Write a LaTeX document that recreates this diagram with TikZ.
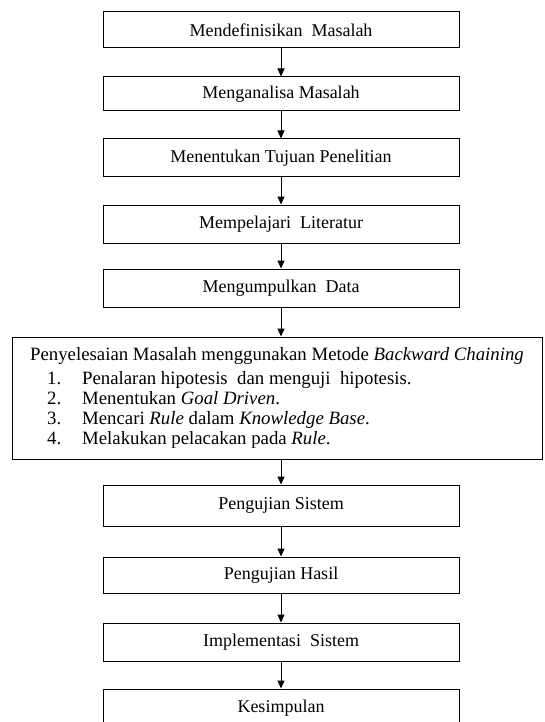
\documentclass[tikz,border=0pt]{standalone}
\usepackage{fontspec}
\setmainfont{Liberation Serif}
\usepackage{tikz}
\usetikzlibrary{arrows.meta}

\begin{document}
\begin{tikzpicture}[x=1pt,y=-1pt,
    box/.style={draw,line width=1pt,minimum width=356pt,inner sep=0pt,
      font=\fontsize{18}{20}\selectfont},
    arr/.style={line width=1pt,-{Triangle[width=7pt,length=8pt]}}]
  \useasboundingbox (0,0) rectangle (544,722);
  % boxes from top to bottom
  \node[box,minimum height=36pt] (def) at (281,30) {Mendefinisikan\ \ Masalah};
  \node[box,minimum height=34pt] (anl) at (281,94) {Menganalisa Masalah};
  \node[box,minimum height=38pt] (tuj) at (281,158) {Menentukan Tujuan Penelitian};
  \node[box,minimum height=38pt] (lit) at (281,224) {Mempelajari\ \ Literatur};
  \node[box,minimum height=38pt] (dat) at (281,288) {Mengumpulkan\ \ Data};
  \node[box,minimum width=530pt,minimum height=122pt,align=left,
    font=\fontsize{18.8}{20}\selectfont] (bc) at (277,398) {%
    Penyelesaian Masalah menggunakan Metode \textit{Backward Chaining}\\[4pt]
    \hspace*{17pt}\makebox[35pt][l]{1.}Penalaran hipotesis\ \ dan menguji\ \ hipotesis.\\
    \hspace*{17pt}\makebox[35pt][l]{2.}Menentukan \textit{Goal Driven}.\\
    \hspace*{17pt}\makebox[35pt][l]{3.}Mencari \textit{Rule} dalam \textit{Knowledge Base}.\\
    \hspace*{17pt}\makebox[35pt][l]{4.}Melakukan pelacakan pada \textit{Rule}.};
  \node[box,minimum height=41pt] (uji) at (281,505.5) {Pengujian Sistem};
  \node[box,minimum height=36pt] (has) at (281,575) {Pengujian Hasil};
  \node[box,minimum height=38pt] (imp) at (281,642) {Implementasi\ \ Sistem};
  \node[box,minimum height=38pt] (kes) at (281,708) {Kesimpulan};
  % arrows
  \draw[arr] (def) -- (anl);
  \draw[arr] (anl) -- (tuj);
  \draw[arr] (tuj) -- (lit);
  \draw[arr] (lit) -- (dat);
  \draw[arr] (dat.south) -- (dat.south |- bc.north);
  \draw[arr] (bc.south -| uji.north) -- (uji.north);
  \draw[arr] (uji) -- (has);
  \draw[arr] (has) -- (imp);
  \draw[arr] (imp) -- (kes);
\end{tikzpicture}
\end{document}
